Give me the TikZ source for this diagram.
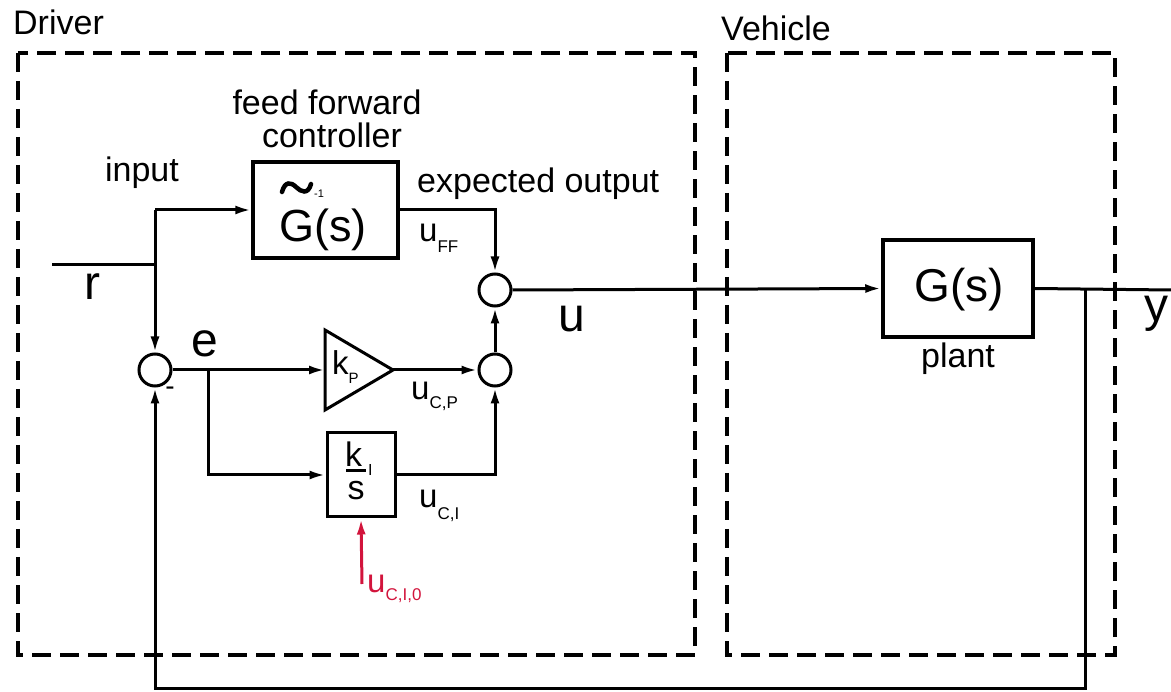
\documentclass[tikz,border=0pt]{standalone}
\usepackage{fontspec}
\setmainfont{Liberation Sans}
\usetikzlibrary{arrows.meta,calc}
\definecolor{redc}{RGB}{210,20,60}
\newcommand{\fs}[1]{\fontsize{#1}{#1}\selectfont}
\newcommand{\ulab}[3]{#1\raisebox{-#3pt}{\fs{17}#2}}
\begin{document}
\begin{tikzpicture}[x=1pt,y=-1pt,
  ln/.style={line width=3pt},
  conn/.style={line width=3pt,-{Latex[length=16pt,width=9pt]}},
  blk/.style={draw,line width=3.5pt,minimum width=145pt,minimum height=96pt,inner sep=0pt},
  sumc/.style={draw,circle,line width=3pt,minimum size=32pt,inner sep=0pt},
  grp/.style={draw,line width=3.5pt,dash pattern=on 19pt off 9pt},
  txt/.style={inner sep=0pt,anchor=base,font=\fs{34}},
  sub/.style={inner sep=0pt,anchor=base west,font=\fs{33}},
  big/.style={inner sep=0pt,anchor=base,font=\fs{48}}]
\useasboundingbox (0,0) rectangle (1171,692);
% group boxes
\draw[grp] (18,53) rectangle (695,655);
\draw[grp] (727,53) rectangle (1115,655);
\node[txt,anchor=base west] (drv) at (13,35) {Driver};
\node[txt,anchor=base west] (veh) at (721,41) {Vehicle};
% blocks
\node[blk] (ff) at (325.5,210) {};
\node[blk,minimum width=150pt,minimum height=97pt] (plant) at (958,288.5) {};
\node[sumc] (sume) at (155,370) {};
\node[sumc] (sum1) at (495,290) {};
\node[sumc] (sum2) at (495,370) {};
\node[draw,line width=3pt,minimum width=68pt,minimum height=84pt,inner sep=0pt] (ki) at (361,475) {};
% kp triangle
\coordinate (kpL) at (325,370);
\coordinate (kpR) at (393,370);
\draw[ln,line join=miter] (325,330) -- (kpR) -- (325,410) -- cycle;
% block texts
\node[inner sep=0pt,anchor=base,font=\fs{45}] (gtl) at (323,242) {G(s)};
\draw[line width=4.5pt,line cap=round] (282,192) .. controls (285,181) and (291,182) .. (296,187) .. controls (301,192) and (308,195) .. (311,184);
\node[inner sep=0pt,anchor=base west,font=\fs{11}] (inv) at (314,198) {-1};
\node[inner sep=0pt,anchor=base,font=\fs{46}] (gpl) at (959,302) {G(s)};
\node[sub] (kpt) at (332,375) {k\raisebox{-9pt}{\fs{15}P}};
\node[inner sep=0pt,anchor=base west,font=\fs{34}] (kit) at (345,467) {k};
\draw[line width=2.5pt] (346,470.5) -- (366,470.5);
\node[inner sep=0pt,anchor=base,font=\fs{34}] (kis) at (356,500) {s};
\node[inner sep=0pt,anchor=base west,font=\fs{16}] (kii) at (368,476) {I};
% labels
\node[txt] (ffl1) at (327,115) {feed forward};
\node[txt] (ffl2) at (332,148) {controller};
\node[txt] (inp) at (142,182) {input};
\node[txt,anchor=base west] (exo) at (417,193) {expected output};
\node[sub] (uff) at (419,242) {\ulab{u}{FF}{11}};
\node[sub] (ucp) at (411,400) {\ulab{u}{C,P}{9}};
\node[sub] (uci) at (419,508) {\ulab{u}{C,I}{12}};
\node[sub,text=redc] (uci0) at (367,593) {\ulab{u}{C,I,0}{8}};
\node[txt] (pl) at (958,368) {plant};
\node[big] (rl) at (92,300) {r};
\node[big] (el) at (205,357) {e};
\node[big] (ul) at (572,332) {u};
\node[big] (yl) at (1156,322) {y};
\node[inner sep=0pt,font=\fs{28}] (minus) at (170,391) {-};
% connectors
\coordinate (rin) at (52,265);
\coordinate (rj) at (155,265);
\coordinate (rtop) at (155,210);
\draw[ln] (rin) -- (rj);
\draw[conn] (rtop) -- (ff.west);
\draw[conn] (rtop) -- (sume.north);
\draw[conn] (sume.east) -- (kpL);
\coordinate (ej) at (208,370);
\draw[conn] (ej) |- (ki.west);
\draw[conn] (kpR) -- (sum2.west);
\draw[conn] (ki.east) -| (sum2.south);
\draw[conn] (sum2.north) -- (sum1.south);
\draw[conn] (ff.east) -| (sum1.north);
\draw[conn] (sum1.east) -- (plant.west);
\coordinate (yout) at (1171,290);
\coordinate (yj) at (1085,290);
\draw[ln] (plant.east) -- (yout);
\coordinate (fb) at (1085,688);
\draw[conn] (yj) -- (fb) -| (sume.south);
\coordinate (red0) at (362,584);
\draw[line width=3pt,redc,-{Latex[length=16pt,width=9pt]}] (red0) -- (ki.south);
\end{tikzpicture}
\end{document}
